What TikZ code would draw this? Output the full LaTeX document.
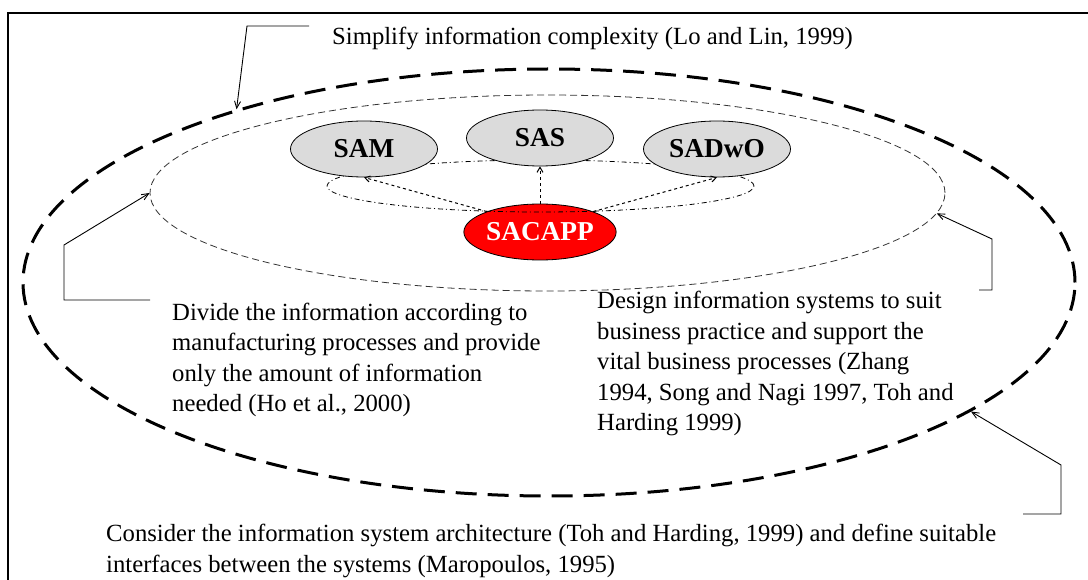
\documentclass[tikz,border=0pt]{standalone}
\usepackage{fontspec}
\setmainfont{Liberation Serif}
\usetikzlibrary{shapes.geometric,arrows.meta}
\begin{document}
\begin{tikzpicture}[x=1pt,y=-1pt]
	\tikzstyle{system}=[ellipse,draw=black,line width=0.8pt,fill=black!14,minimum width=147pt,minimum height=56pt,inner sep=0pt,font=\fontsize{27.3}{30}\selectfont\bfseries]
	\tikzstyle{core}=[system,fill=red,text=white]
	\tikzstyle{ring}=[ellipse,inner sep=0pt]
	\tikzstyle{note}=[anchor=north west,inner sep=0pt,align=left,font=\fontsize{24.7}{30.5}\selectfont]
	\tikzstyle{link}=[draw,dashed,line width=1pt,-{Straight Barb[length=5pt,width=6pt]}]
	\tikzstyle{callout}=[draw,line width=0.9pt,black,-{Straight Barb[length=7pt,width=6pt]}]
	\useasboundingbox (0,0) rectangle (1088,580);
	% frame
	\draw[line width=2pt] (7.5,600) -- (7.5,13) -- (1100,13);
	% rings
	\node[ring,draw,line width=3pt,dash pattern=on 21pt off 11pt,minimum width=1052pt,minimum height=427pt] (outer) at (549,282.5) {};
	\node[ring,draw=black!80,line width=0.8pt,dash pattern=on 7pt off 4pt,minimum width=795pt,minimum height=196pt] (inner) at (547.5,193) {};
	% systems
	\node [core] (sacapp) at (540,232) {SACAPP};
	\node[ring,draw,line width=0.8pt,dash pattern=on 5pt off 3pt on 1pt off 3pt,minimum width=427pt,minimum height=52pt] (loop) at (540.5,186) {};
	\node [system] (sam) at (364,149) {SAM};
	\node [system] (sas) at (540,138) {SAS};
	\node [system] (sadwo) at (717,149) {SADwO};
	\draw[link] (sacapp.159) -- (sam.south);
	\draw[link] (sacapp.north) -- (sas.south);
	\draw[link] (sacapp.21) -- (sadwo.south);
	% notes
	\node[note,anchor=base west] (simplify) at (332,45) {Simplify information complexity (Lo and Lin, 1999)};
	\node[note] (divide) at (172,302.5) {Divide the information according to\\manufacturing processes and provide\\only the amount of information\\needed (Ho et al., 2000)};
	\node[note] (design) at (597,291) {Design information systems to suit\\business practice and support the\\vital business processes (Zhang\\1994, Song and Nagi 1997, Toh and\\Harding 1999)};
	\node[note] (consider) at (106,524) {Consider the information system architecture (Toh and Harding, 1999) and define suitable\\interfaces between the systems (Maropoulos, 1995)};
	% callouts
	\coordinate (simplifyend) at (309,26);
	\coordinate (divideend) at (150,300);
	\coordinate (designend) at (979,290);
	\coordinate (considerend) at (1023,514);
	\draw[callout] (simplifyend) -- (247,26) -- (outer.151);
	\draw[callout] (divideend) -- (64,300) -- (64,245) -- (inner.180);
	\draw[callout] (designend) -- (992,290) -- (992,239) -- (inner.-3);
	\draw[callout] (considerend) -- (1061,514) -- (1061,465) -- (outer.-17);
\end{tikzpicture}
\end{document}
